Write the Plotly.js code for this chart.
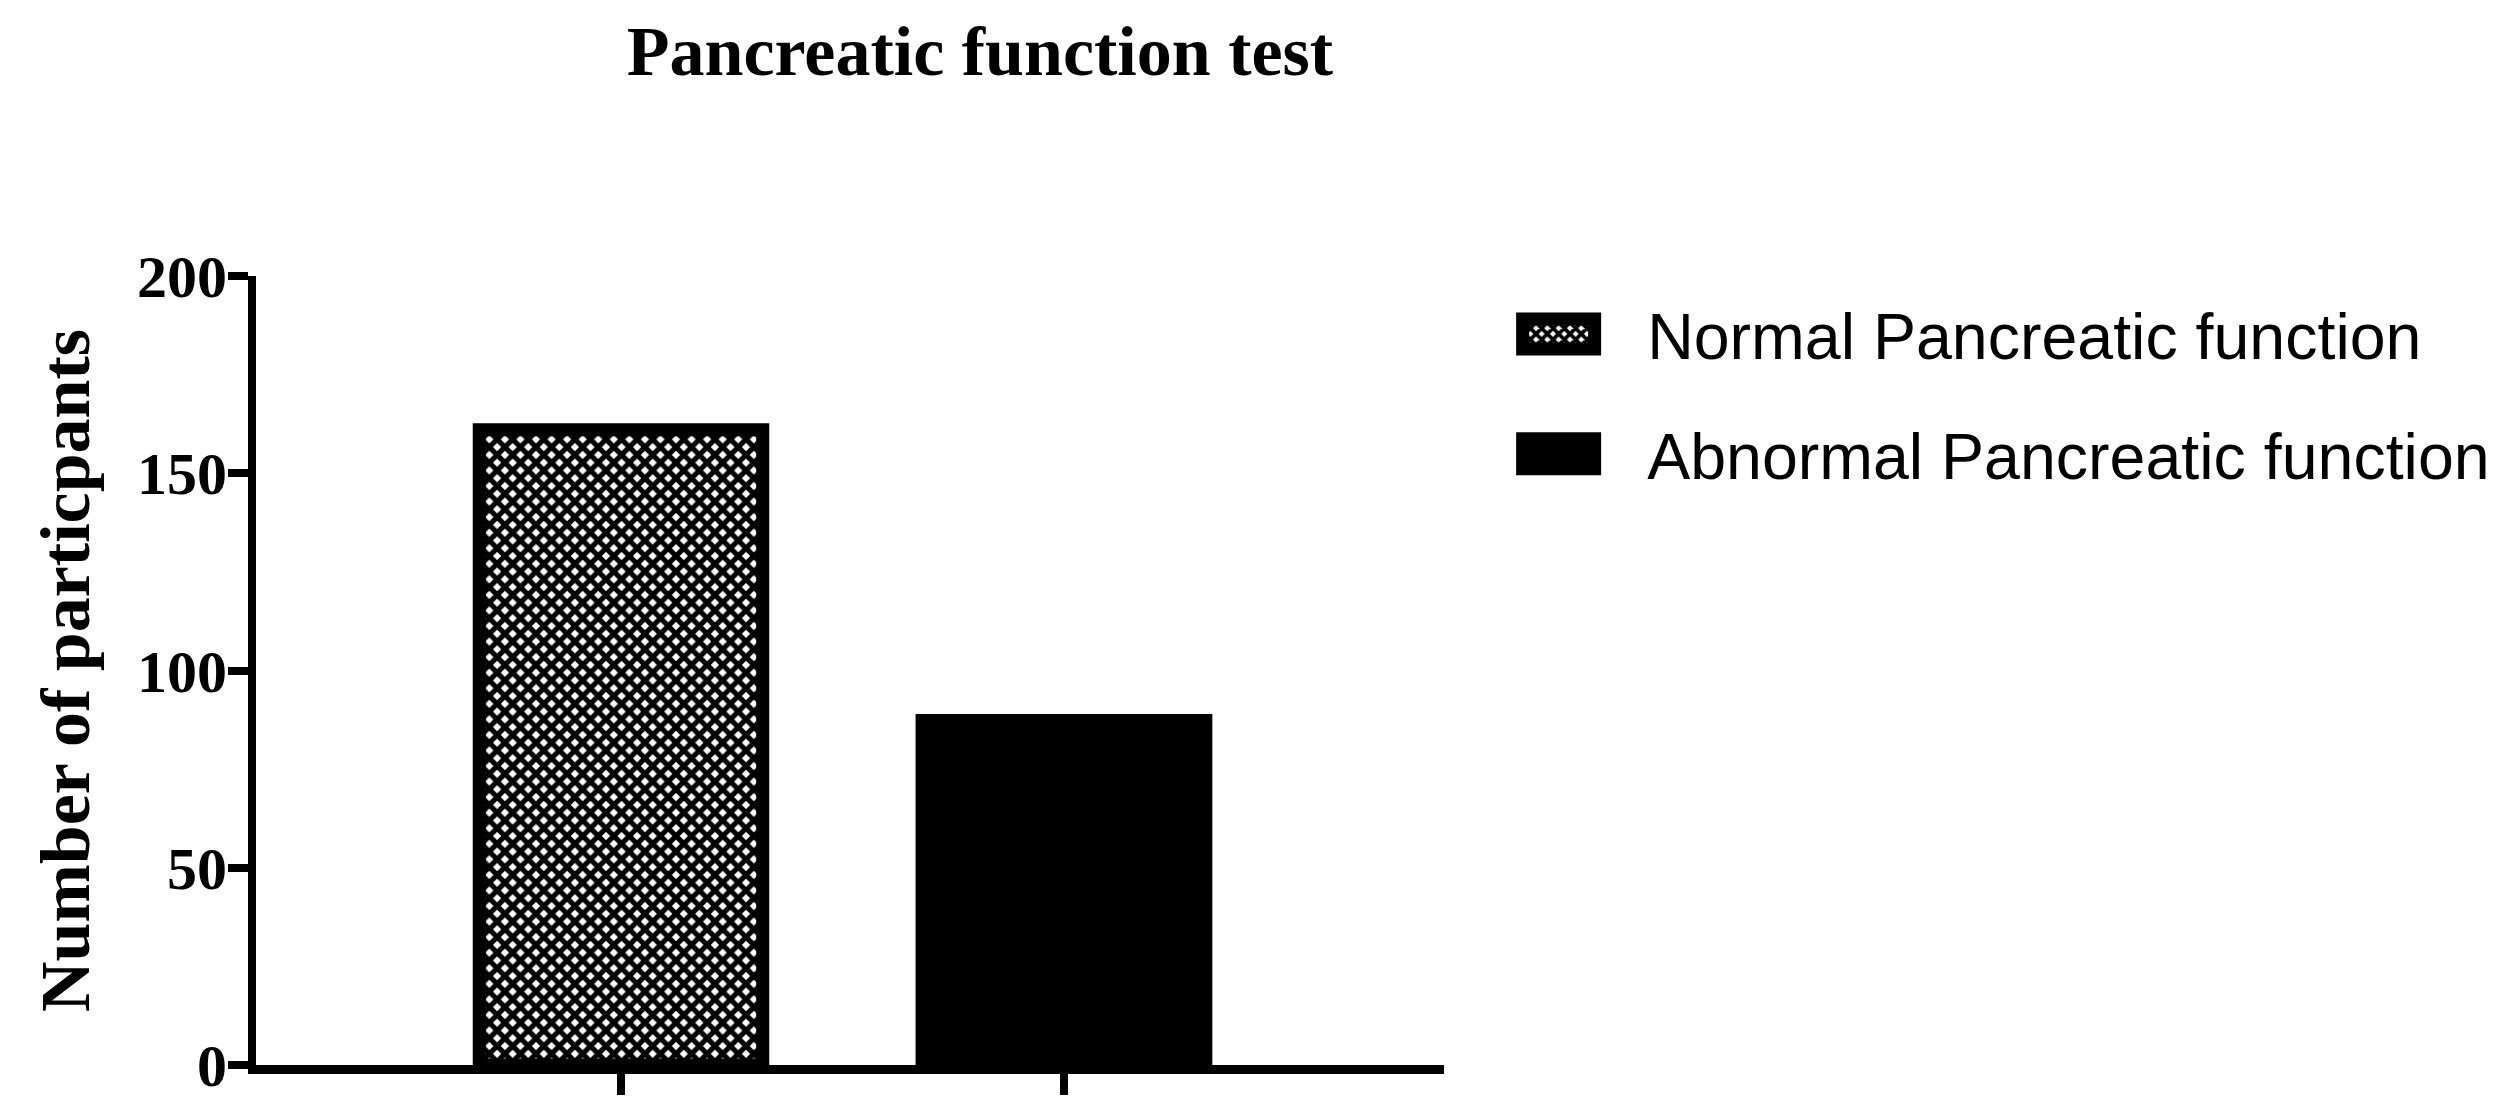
<!DOCTYPE html>
<html>
<head>
<meta charset="utf-8">
<script src="https://cdn.plot.ly/plotly-3.0.1.min.js"></script>
<style>
  html, body { margin: 0; padding: 0; background: #ffffff; }
  #chart { width: 2517px; height: 1117px; }
</style>
</head>
<body>
<div id="chart"></div>
<script>
// ---- data ----
const categories = ['Normal Pancreatic function', 'Abnormal Pancreatic function'];
const participants = [161, 89];
const yTickVals = [0, 50, 100, 150, 200];
const yTickText = ['0', '50', '100', '150', '200'];
const chartTitle = 'Pancreatic function test';
const yTitle = 'Number of particpants';

const serif = '"Liberation Serif", "Times New Roman", serif';
const sans = '"Liberation Sans", Arial, sans-serif';

const patterns = [
  { shape: 'x', size: 11, solidity: 0.72, fgcolor: '#000000', bgcolor: '#ffffff', fillmode: 'replace' },
  { shape: '' }
];
const lineWidths = [13, 0];
const barWidths = [0.64, 0.67];

const traces = categories.map((c, i) => ({
  type: 'bar',
  x: [c],
  y: [participants[i]],
  name: c,
  legendgroup: 'g' + i,
  width: [barWidths[i]],
  marker: {
    color: i === 0 ? '#ffffff' : '#000000',
    pattern: patterns[i],
    line: { color: '#000000', width: lineWidths[i] }
  },
  hoverinfo: 'x+y'
}));

const layout = {
  width: 2517,
  height: 1117,
  paper_bgcolor: '#ffffff',
  plot_bgcolor: '#ffffff',
  margin: { l: 256, r: 1073, t: 276, b: 52, pad: 0 },
  barmode: 'overlay',
  title: {
    text: '<b>' + chartTitle + '</b>',
    font: { family: serif, size: 70, color: '#000000' },
    x: 0.6094, xref: 'paper', xanchor: 'center',
    y: 0.9545, yref: 'container', yanchor: 'middle'
  },
  xaxis: {
    type: 'category',
    categoryarray: categories,
    range: [-0.824, 1.858],
    showline: true, linecolor: '#000000', linewidth: 9,
    ticks: 'outside', ticklen: 21, tickwidth: 8, tickcolor: '#000000',
    showticklabels: false,
    showgrid: false, zeroline: false, fixedrange: true
  },
  yaxis: {
    range: [0, 200],
    tickvals: yTickVals,
    ticktext: yTickText,
    showline: true, linecolor: '#000000', linewidth: 8,
    ticks: 'outside', ticklen: 20, tickwidth: 8, tickcolor: '#000000',
    ticklabelstandoff: -11,
    tickfont: { family: serif, size: 60, color: '#000000', weight: 'bold' },
    showgrid: false, zeroline: false, fixedrange: true,
    title: {
      text: '<b>' + yTitle + '</b>',
      font: { family: serif, size: 70, color: '#000000' },
      standoff: 28
    }
  },
  showlegend: true,
  legend: {
    x: 1.022, xref: 'paper', xanchor: 'left',
    y: 0.988, yref: 'paper', yanchor: 'top',
    font: { family: sans, size: 64.5, color: '#000000' },
    itemwidth: 167,
    tracegroupgap: 33,
    bgcolor: 'rgba(0,0,0,0)',
    borderwidth: 0
  }
};

Plotly.newPlot('chart', traces, layout, { displayModeBar: false, staticPlot: true }).then(() => {
  // enlarge legend swatches to match the reference's wide rectangles
  document.querySelectorAll('.legend .legendpoints path').forEach(p => {
    p.setAttribute('d', 'M36,15H-36V-15H36Z');
    p.style.strokeWidth = '13px';
    p.style.stroke = '#000000';
  });
});
</script>
</body>
</html>
